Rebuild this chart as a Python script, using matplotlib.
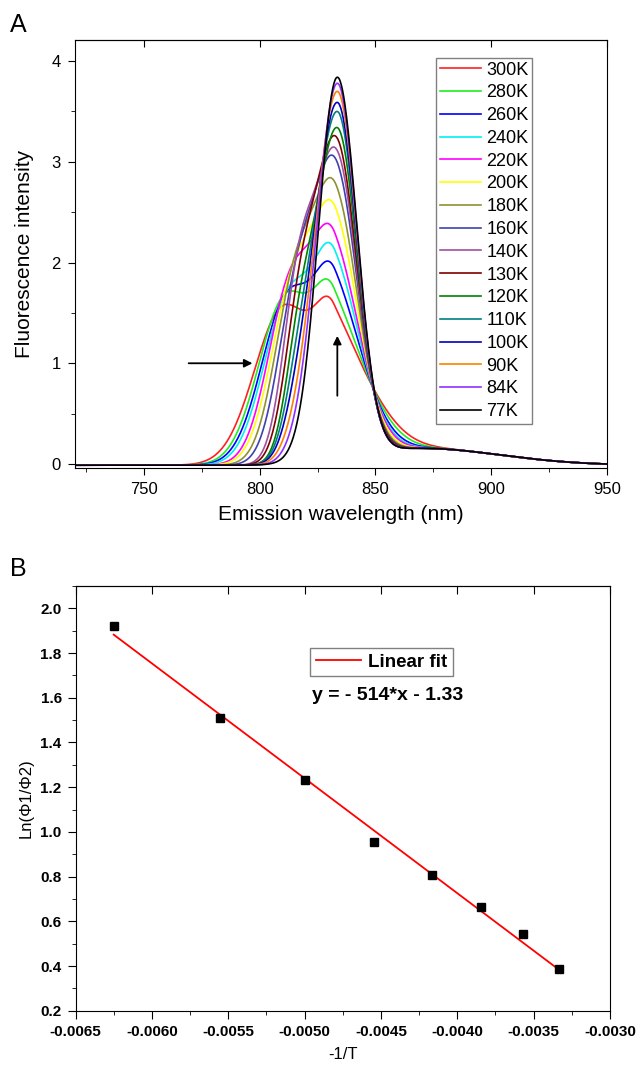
import numpy as np
import matplotlib
matplotlib.use('Agg')
import matplotlib.pyplot as plt

plt.rcParams['font.family'] = ['Liberation Sans', 'DejaVu Sans']

# Panel A: emission spectra; each curve is described by values
labels = ['300K', '280K', '260K', '240K', '220K', '200K', '180K', '160K',
          '140K', '130K', '120K', '110K', '100K', '90K', '84K', '77K']
colors = ['#ff2020', '#20ee20', '#0000ff', '#00f0f0', '#ff00ff', '#ffff00',
          '#909030', '#4040b0', '#a050a0', '#800000', '#008000', '#008080',
          '#0000c0', '#ff8000', '#9030ff', '#000000']
peak_height = [1.59, 1.75, 1.93, 2.12, 2.29, 2.53, 2.77, 3.02,
               3.13, 3.25, 3.34, 3.50, 3.59, 3.70, 3.78, 3.84]
peak_pos = [832.0, 832.0, 832.5, 832.5, 832.5, 833.0, 833.0, 833.0,
            833.0, 833.0, 833.5, 833.5, 833.5, 833.5, 833.5, 833.5]
# wavelength where each curve crosses intensity 1.0 and 0.34 on its blue side
edge_at_1 = [798.6, 799.7, 800.9, 801.9, 803.0, 804.3, 805.8, 807.5,
             809.3, 810.9, 812.4, 813.7, 815.0, 816.5, 818.0, 819.4]
edge_at_034 = [788.5, 790.7, 792.1, 793.5, 795.7, 797.1, 799.3, 801.4,
               804.3, 805.8, 807.9, 809.3, 810.8, 812.9, 814.4, 816.5]
# wavelength where each curve falls to 0.8 on its red side
edge_red_08 = [848.0, 848.1, 848.2, 848.3, 848.4, 848.5, 848.5, 848.6,
               848.6, 848.7, 848.7, 848.8, 848.8, 848.9, 848.9, 849.0]
# blue-side width of the main band and centre of the blue shoulder band (nm)
width_left = [7.6, 7.8, 8.0, 8.2, 8.4, 8.6, 8.8, 9.0,
              9.2, 9.4, 9.6, 9.8, 9.8, 9.6, 9.0, 8.2]
shoulder_pos = [810.5, 811.5, 812.5, 813.0, 814.0, 815.0, 815.5, 816.0,
                816.5, 817.0, 817.0, 817.0, 817.0, 817.0, 817.0, 817.0]
baseline = -0.012

# Panel B: ln(phi1/phi2) versus -1/T
temps_b = [160, 180, 200, 220, 240, 260, 280, 300]
ln_ratio = [1.922, 1.508, 1.232, 0.953, 0.807, 0.662, 0.542, 0.385]
fit_slope, fit_icpt = -514.0, -1.33


def gauss(x, mu, s):
    return np.exp(-(x - mu) ** 2 / (2 * s ** 2))


def others(x):
    # weak red tail common to all spectra + detector baseline
    tail = 0.17 * np.exp(-((x - 868) / 50) ** 2) / (1 + np.exp(-(x - 848) / 5))
    return tail + baseline


def main_amp(i, s_amp, s_wid):
    p = np.float64(peak_pos[i])
    return peak_height[i] - s_amp * gauss(p, shoulder_pos[i], s_wid) - others(p)


def blue_side(x, i, s_amp, s_wid):
    main = main_amp(i, s_amp, s_wid) * gauss(x, peak_pos[i], width_left[i])
    return main + s_amp * gauss(x, shoulder_pos[i], s_wid) + others(x)


def fit_curve(i):
    # shoulder height / width so the blue side passes the two read edge points
    sa = np.linspace(0, 2.2, 221)[:, None]
    sw = np.linspace(6, 20, 141)[None, :]
    e1 = blue_side(np.float64(edge_at_1[i]), i, sa, sw) - 1.0
    e2 = blue_side(np.float64(edge_at_034[i]), i, sa, sw) - 0.34
    err = e1 ** 2 + e2 ** 2
    k, j = np.unravel_index(np.argmin(err), err.shape)
    s_amp, s_wid = sa[k, 0], sw[0, j]
    # red-side width from the 0.8 crossing
    xr = edge_red_08[i]
    rest = 0.8 - s_amp * gauss(xr, shoulder_pos[i], s_wid) - others(xr)
    amp = main_amp(i, s_amp, s_wid)
    w_right = (xr - peak_pos[i]) / np.sqrt(2 * np.log(amp / rest))
    return s_amp, s_wid, amp, w_right


def spectrum(x, i):
    s_amp, s_wid, amp, w_right = fit_curve(i)
    w = np.where(x < peak_pos[i], width_left[i], w_right)
    return amp * gauss(x, peak_pos[i], w) + s_amp * gauss(x, shoulder_pos[i], s_wid) + others(x)


fig = plt.figure(figsize=(6.4, 10.69), dpi=100)

# ---------------- panel A ----------------
ax = fig.add_axes([0.117, 0.5622, 0.831, 0.4004])
wl = np.arange(720, 950.25, 0.25)
for i in range(len(labels)):
    ax.plot(wl, spectrum(wl, i), color=colors[i], lw=1.2, label=labels[i])

ax.set_xlim(720, 950)
ax.set_ylim(-0.04, 4.21)
ax.set_xticks([750, 800, 850, 900, 950])
ax.set_xticks([725, 775, 825, 875, 925], minor=True)
ax.set_yticks([0, 1, 2, 3, 4])
ax.set_yticks([0.5, 1.5, 2.5, 3.5], minor=True)
ax.tick_params(which='both', direction='out', right=False, top=False, labelsize=12, pad=5)
ax.tick_params(which='major', length=5)
ax.tick_params(which='minor', length=3)
top = ax.secondary_xaxis('top')
top.set_xticks([750, 800, 850, 900, 950])
top.tick_params(direction='in', length=5, labeltop=False)
ax.set_xlabel('Emission wavelength (nm)', fontsize=15, labelpad=6)
ax.set_ylabel('Fluorescence intensity', fontsize=15, labelpad=13)

ax.annotate('', xy=(798, 1.0), xytext=(768, 1.0),
            arrowprops=dict(arrowstyle='-|>', color='k', lw=1.3, mutation_scale=12))
ax.annotate('', xy=(833.5, 1.30), xytext=(833.5, 0.65),
            arrowprops=dict(arrowstyle='-|>', color='k', lw=1.3, mutation_scale=12))

leg = ax.legend(loc='upper left', bbox_to_anchor=(0.679, 0.958), fontsize=13,
                handlelength=2.3, labelspacing=0.32, borderpad=0.2,
                handletextpad=0.28, fancybox=False, framealpha=1,
                edgecolor='#808080', borderaxespad=0)
leg.get_frame().set_linewidth(1.0)

# ---------------- panel B ----------------
bx = fig.add_axes([0.118, 0.0545, 0.835, 0.3973])
inv_t = [-1.0 / t for t in temps_b]
fit_x = np.array([inv_t[0], inv_t[-1]])
bx.plot(fit_x, fit_slope * fit_x + fit_icpt, color='#ff0000', lw=1.3, label='Linear fit', zorder=2)
bx.plot(inv_t, ln_ratio, 's', color='k', ms=6, zorder=3)

xt = np.arange(-0.0065, -0.00299, 0.0005)
yt = np.arange(0.2, 2.01, 0.2)
bx.set_xlim(-0.0065, -0.0030)
bx.set_ylim(0.2, 2.1)
bx.set_xticks(xt)
bx.set_xticklabels(['%.4f' % v for v in xt])
bx.set_xticks(xt[:-1] + 0.00025, minor=True)
bx.set_yticks(yt)
bx.set_yticklabels(['%.1f' % v for v in yt])
bx.set_yticks(yt + 0.1, minor=True)
bx.tick_params(which='both', direction='out', right=False, top=False, labelsize=11, pad=4)
bx.tick_params(which='major', length=6)
bx.tick_params(which='minor', length=3)
for t in bx.get_xticklabels() + bx.get_yticklabels():
    t.set_fontweight('bold')
btop = bx.secondary_xaxis('top')
btop.set_xticks(xt)
btop.tick_params(direction='in', length=6, labeltop=False)
bx.set_xlabel('-1/T', fontsize=12, labelpad=6)
bx.set_ylabel('Ln(\u03a61/\u03a62)', fontsize=12, labelpad=5)

bleg = bx.legend(loc='upper left', bbox_to_anchor=(0.439, 0.854), fancybox=False,
                 edgecolor='#808080', framealpha=1, handlelength=2.4,
                 handletextpad=0.4, borderpad=0.3, borderaxespad=0,
                 prop={'size': 13.5, 'weight': 'bold'})
bleg.get_frame().set_linewidth(1.0)
bx.text(0.442, 0.743, 'y = - 514*x - 1.33', transform=bx.transAxes,
        fontsize=14, fontweight='bold', ha='left', va='center')

fig.text(0.0156, 0.9766, 'A', fontsize=18, va='center', ha='left')
fig.text(0.0156, 0.4677, 'B', fontsize=18, va='center', ha='left')

fig.savefig('out.png', dpi=100)
